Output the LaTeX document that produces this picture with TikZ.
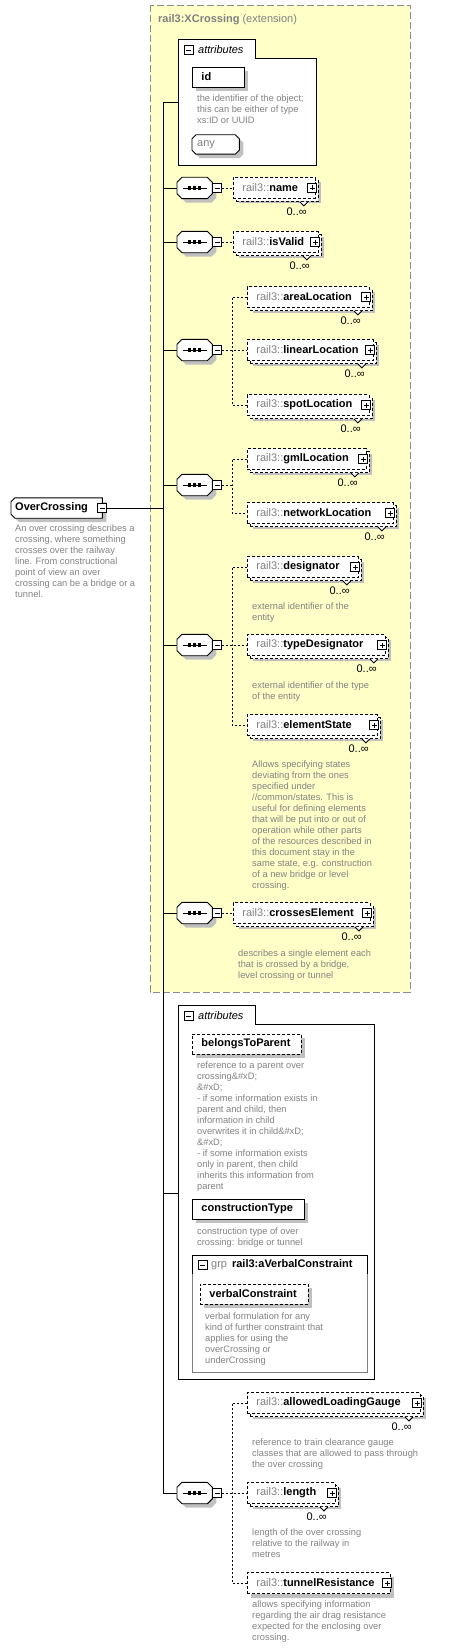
\documentclass[tikz,border=0pt]{standalone}
\usepackage{fontspec}
\setmainfont{Liberation Sans}
\usetikzlibrary{positioning,calc}

\definecolor{extfill}{RGB}{255,255,200}
\definecolor{extline}{RGB}{140,140,140}
\definecolor{descgray}{RGB}{130,130,130}
\definecolor{pregray}{RGB}{128,128,128}
\definecolor{shadegray}{RGB}{192,192,192}

\newcommand{\namefont}{\fontsize{11}{13}\selectfont}
\newcommand{\descfont}{\fontsize{9.3}{11}\selectfont}
\newcommand{\pre}[1]{\textcolor{pregray}{rail3::}\textbf{#1}}
% outlines with cut corners, taken from a node's corners
\newcommand{\octo}[2]{([xshift=#2]#1.north west) -- ([xshift=-#2]#1.north east)
  -- ([yshift=-#2]#1.north east) -- ([yshift=#2]#1.south east)
  -- ([xshift=-#2]#1.south east) -- ([xshift=#2]#1.south west)
  -- ([yshift=#2]#1.south west) -- ([yshift=-#2]#1.north west) -- cycle}
\newcommand{\leftcut}[2]{([xshift=#2]#1.north west) -- (#1.north east) -- (#1.south east)
  -- ([xshift=#2]#1.south west) -- ([yshift=#2]#1.south west)
  -- ([yshift=-#2]#1.north west) -- cycle}
\newcommand{\shaded}[1]{\fill[shadegray, transform canvas={shift={(4pt,-4pt)}}] #1;
  \draw[line width=0.9pt, fill=white] #1;}
% sequence compositor
\newcommand{\seqbox}[1]{\shaded{\octo{#1}{5pt}}
  \draw[line width=0.9pt] ([xshift=-12pt]#1.center) -- ([xshift=12pt]#1.center);
  \fill ([xshift=-6.75pt,yshift=-1.75pt]#1.center) rectangle ++(3.5pt,3.5pt);
  \fill ([xshift=-1.75pt,yshift=-1.75pt]#1.center) rectangle ++(3.5pt,3.5pt);
  \fill ([xshift=3.25pt,yshift=-1.75pt]#1.center) rectangle ++(3.5pt,3.5pt);}
% plus box at the right end of an element box
\newcommand{\plus}[1]{\node[plus] (#1-p) at ([xshift=-3.5pt]#1.east) {};}
% notch and 0..oo under a repeated element box
\newcommand{\many}[1]{%
  \draw[solid, line width=0.9pt, fill=white] ([xshift=-16pt,yshift=-3pt]#1.south east) -- ++(4pt,-4pt) -- ++(4pt,4pt);
  \node[mult] (#1-n) at ([xshift=-9pt,yshift=-9pt]#1.south east) {0..∞};}

\begin{document}
\begin{tikzpicture}[x=1pt, y=-1pt,
  tree/.style={draw, line width=0.9pt},
  link/.style={draw, line width=0.9pt, dash pattern=on 2pt off 2pt},
  frame/.style={draw, line width=0.9pt, fill=white},
  boxshade/.style={preaction={fill=shadegray, draw=none, transform canvas={shift={(#1)}}}},
  boxshade/.default={4pt,-4pt},
  elem/.style={draw, line width=0.9pt, dash pattern=on 3pt off 2pt, fill=white,
    anchor=west, minimum height=21pt, inner xsep=9pt, inner ysep=0pt,
    font=\namefont, align=left},
  attr/.style={elem, solid, minimum height=20pt},
  many/.style={boxshade={6pt,-5pt},
    preaction={draw, fill=white, transform canvas={shift={(3pt,-3pt)}}}},
  mult/.style={anchor=north east, inner sep=0pt, font=\namefont},
  desc/.style={anchor=north west, inner sep=0pt, align=left,
    font=\descfont, text=descgray},
  minus/.style={draw, solid, line width=0.9pt, fill=white, minimum size=9pt, inner sep=0pt,
    path picture={\draw ([xshift=2pt]path picture bounding box.west)
      -- ([xshift=-2pt]path picture bounding box.east);}},
  plus/.style={draw, solid, line width=0.9pt, fill=white, minimum size=9pt, inner sep=0pt,
    path picture={\draw ([xshift=2pt]path picture bounding box.west)
      -- ([xshift=-2pt]path picture bounding box.east)
      ([yshift=-2pt]path picture bounding box.north)
      -- ([yshift=2pt]path picture bounding box.south);}},
  seq/.style={anchor=west, minimum width=35pt, minimum height=21pt, inner sep=0pt},
  label/.style={anchor=west, inner sep=0pt, font=\namefont},
]
  \useasboundingbox (0,0) rectangle (448,1648);

  % === extension box (yellow) ===
  \draw[fill=extfill, draw=extline, line width=0.9pt, dash pattern=on 7pt off 3pt]
    (150,5) rectangle (410,992);
  \node[label, text=pregray] (ext) at (158,20) {\textbf{rail3:XCrossing} (extension)};

  % === attributes of the extension ===
  \draw[frame] (178,165) -- (178,39) -- (255,39) -- (255,58) -- (316,58) -- (316,165) -- cycle;
  \node[minus] (attA-m) at (188.5,50) {};
  \node[label, font=\namefont\itshape] (attA-t) at (198,50) {attributes};
  \node[attr, boxshade, text width=34pt] (id) at (192,77) {\textbf{id}};
  \node[desc] (id-d) at (197,94.6) {the identifier of the object;\\this can be either of type\\xs:ID or UUID};
  \node[seq, minimum width=47pt, minimum height=19pt] (any) at (192,144.5) {};
  \shaded{\octo{any}{4pt}}
  \node[label, text=pregray] (any-t) at ([xshift=5pt]any.west) {any};

  % === root element ===
  \node[seq, minimum width=91pt, minimum height=20pt] (oc) at (11,508) {};
  \shaded{\leftcut{oc}{4pt}}
  \node[label, font=\namefont\bfseries] (oc-t) at ([xshift=4pt]oc.west) {OverCrossing};
  \node[minus] (oc-m) at (oc.east) {};
  \node[desc] (oc-d) at (15,524.6) {An over crossing describes a\\crossing, where something\\crosses over the railway\\line. From constructional\\point of view an over\\crossing can be a bridge or a\\tunnel.};

  % === spine ===
  \coordinate (spTop) at (163,102);
  \coordinate (spBot) at (163,1493);
  \coordinate (attA) at (178,102);
  \coordinate (attB) at (178,1193);
  \node[seq] (seqA) at (177,188) {};
  \node[seq] (seqB) at (177,242) {};
  \node[seq] (seqC) at (177,350) {};
  \node[seq] (seqD) at (177,485) {};
  \node[seq] (seqE) at (177,645) {};
  \node[seq] (seqF) at (177,913) {};
  \node[seq] (seqG) at (177,1493) {};
  \seqbox{seqA} \seqbox{seqB} \seqbox{seqC} \seqbox{seqD}
  \seqbox{seqE} \seqbox{seqF} \seqbox{seqG}
  \node[minus, right=0pt of seqA] (seqA-m) {};
  \node[minus, right=0pt of seqB] (seqB-m) {};
  \node[minus, right=0pt of seqC] (seqC-m) {};
  \node[minus, right=0pt of seqD] (seqD-m) {};
  \node[minus, right=0pt of seqE] (seqE-m) {};
  \node[minus, right=0pt of seqF] (seqF-m) {};
  \node[minus, right=0pt of seqG] (seqG-m) {};

  \draw[tree] (attA) -- (spTop) -- (spBot) -- (seqG.west);
  \draw[tree] (oc-m.east) -- (oc-m.east -| spTop);
  \draw[tree] (seqA.west) -- (seqA.west -| spTop);
  \draw[tree] (seqB.west) -- (seqB.west -| spTop);
  \draw[tree] (seqC.west) -- (seqC.west -| spTop);
  \draw[tree] (seqD.west) -- (seqD.west -| spTop);
  \draw[tree] (seqE.west) -- (seqE.west -| spTop);
  \draw[tree] (seqF.west) -- (seqF.west -| spTop);
  \draw[tree] (attB) -- (attB -| spTop);

  % === name, isValid ===
  \node[elem, many, text width=64pt] (name) at (233,188) {\pre{name}};
  \plus{name} \many{name}
  \node[elem, many, text width=67pt] (valid) at (233,242) {\pre{isValid}};
  \plus{valid} \many{valid}
  \path[link] (seqA-m.east) -- (name.west);
  \path[link] (seqB-m.east) -- (valid.west);

  % === locations ===
  \coordinate (jC) at (232,350);
  \node[elem, many, text width=104pt] (area) at (247,297) {\pre{areaLocation}};
  \plus{area} \many{area}
  \node[elem, many, text width=108pt] (linear) at (247,350) {\pre{linearLocation}};
  \plus{linear} \many{linear}
  \node[elem, many, text width=104pt] (spot) at (247,405) {\pre{spotLocation}};
  \plus{spot} \many{spot}
  \path[link] (seqC-m.east) -- (linear.west);
  \path[link] (area.west) -| (jC) |- (spot.west);

  \coordinate (jD) at (232,485);
  \node[elem, many, text width=101pt] (gml) at (247,459) {\pre{gmlLocation}};
  \plus{gml} \many{gml}
  \node[elem, many, text width=128pt] (net) at (247,513) {\pre{networkLocation}};
  \plus{net} \many{net}
  \path[link] (seqD-m.east) -- (jD);
  \path[link] (gml.west) -| (jD) |- (net.west);

  % === designators and state ===
  \coordinate (jE) at (232,645);
  \node[elem, many, text width=93pt] (desig) at (247,567) {\pre{designator}};
  \plus{desig} \many{desig}
  \node[desc] (desig-d) at (252,602.6) {external identifier of the\\entity};
  \node[elem, many, text width=120pt] (tdesig) at (247,645) {\pre{typeDesignator}};
  \plus{tdesig} \many{tdesig}
  \node[desc] (tdesig-d) at (252,681.6) {external identifier of the type\\of the entity};
  \node[elem, many, text width=112pt] (state) at (247,725) {\pre{elementState}};
  \plus{state} \many{state}
  \node[desc] (state-d) at (252,760.6) {Allows specifying states\\deviating from the ones\\specified under\\//common/states. This is\\useful for defining elements\\that will be put into or out of\\operation while other parts\\of the resources described in\\this document stay in the\\same state, e.g. construction\\of a new bridge or level\\crossing.};
  \path[link] (seqE-m.east) -- (tdesig.west);
  \path[link] (desig.west) -| (jE) |- (state.west);

  % === crossesElement ===
  \node[elem, many, text width=119pt] (cross) at (233,913) {\pre{crossesElement}};
  \plus{cross} \many{cross}
  \node[desc] (cross-d) at (238,949.6) {describes a single element each\\that is crossed by a bridge,\\level crossing or tunnel};
  \path[link] (seqF-m.east) -- (cross.west);

  % === attributes of OverCrossing ===
  \draw[frame] (178,1379) -- (178,1005) -- (255,1005) -- (255,1024) -- (374,1024) -- (374,1379) -- cycle;
  \node[minus] (attB-m) at (188.5,1016) {};
  \node[label, font=\namefont\itshape] (attB-t) at (198,1016) {attributes};
  \node[attr, dash pattern=on 3pt off 2pt, boxshade, text width=91pt] (parent) at (192,1044) {\textbf{belongsToParent}};
  \node[desc] (parent-d) at (197,1061.6) {reference to a parent over\\crossing\&\#xD;\\\&\#xD;\\- if some information exists in\\parent and child, then\\information in child\\overwrites it in child\&\#xD;\\\&\#xD;\\- if some information exists\\only in parent, then child\\inherits this information from\\parent};
  \node[attr, boxshade, text width=94pt] (ctype) at (192,1209) {\textbf{constructionType}};
  \node[desc] (ctype-d) at (197,1227.6) {construction type of over\\crossing: bridge or tunnel};

  % group
  \draw[draw=pregray, line width=0.9pt] (192,1255) rectangle (367,1372);
  \draw[tree] (192,1274) -- (192,1255) -- (367,1255) -- (367,1274);
  \node[minus] (grp-m) at (202.5,1265) {};
  \node[label] (grp-t) at (211,1265)
    {\textcolor{pregray}{grp}\hspace{5pt}\textbf{rail3:aVerbalConstraint}};
  \node[attr, dash pattern=on 3pt off 2pt, boxshade, text width=90pt] (verbal) at (200,1294) {\textbf{verbalConstraint}};
  \node[desc] (verbal-d) at (205,1312.6) {verbal formulation for any\\kind of further constraint that\\applies for using the\\overCrossing or\\underCrossing};

  % === gauge, length, tunnel ===
  \coordinate (jG) at (232,1493);
  \node[elem, many, text width=155pt] (gauge) at (247,1403) {\pre{allowedLoadingGauge}};
  \plus{gauge} \many{gauge}
  \node[desc] (gauge-d) at (252,1438.6) {reference to train clearance gauge\\classes that are allowed to pass through\\the over crossing};
  \node[elem, many, text width=70pt] (length) at (247,1493) {\pre{length}};
  \plus{length} \many{length}
  \node[desc] (length-d) at (252,1528.6) {length of the over crossing\\relative to the railway in\\metres};
  \node[elem, boxshade, text width=125pt] (tunnel) at (247,1583) {\pre{tunnelResistance}};
  \plus{tunnel}
  \node[desc] (tunnel-d) at (252,1600.6) {allows specifying information\\regarding the air drag resistance\\expected for the enclosing over\\crossing.};
  \path[link] (seqG-m.east) -- (length.west);
  \path[link] (gauge.west) -| (jG) |- (tunnel.west);

\end{tikzpicture}
\end{document}
